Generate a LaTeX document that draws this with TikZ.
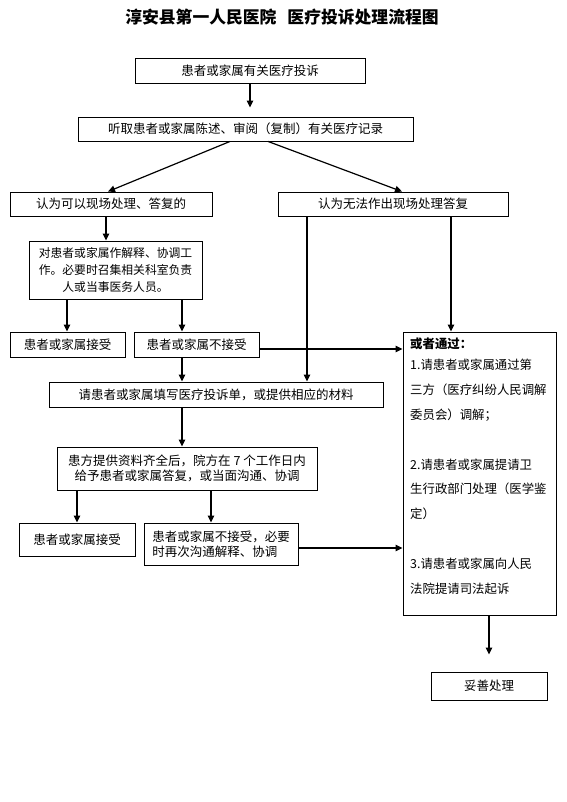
\documentclass[tikz,border=0pt]{standalone}
\usepackage{fontspec}
\setmainfont{Noto Sans CJK SC}
\usetikzlibrary{arrows.meta}
\begin{document}
\begin{tikzpicture}[x=1pt,y=-1pt,
  box/.style={draw,line width=0.9pt,inner sep=0pt,font=\fontsize{12.5}{15}\selectfont,align=center},
  arr/.style={line width=1.2pt,-{Triangle[length=7pt,width=6.5pt]}}]
\useasboundingbox[fill=white] (0,0) rectangle (566,802);
\node[font=\fontsize{16.8}{18}\selectfont\bfseries,inner sep=0pt] (title) at (282,17) {淳安县第一人民医院\hspace{11pt}医疗投诉处理流程图};
\node[box,minimum width=230pt,minimum height=25pt] (b1) at (250,70.5) {患者或家属有关医疗投诉};
\node[box,minimum width=335pt,minimum height=24pt] (b2) at (245.5,129) {听取患者或家属陈述、审阅（复制）有关医疗记录};
\node[box,minimum width=202pt,minimum height=24pt] (b3L) at (111,204) {认为可以现场处理、答复的};
\node[box,minimum width=230pt,minimum height=24pt] (b3R) at (393,204) {认为无法作出现场处理答复};
\node[box,minimum width=173pt,minimum height=58pt,font=\fontsize{11.8}{17}\selectfont] (b4) at (115.5,270) {对患者或家属作解释、协调工\\作。必要时召集相关科室负责\\人或当事医务人员。};
\node[box,minimum width=115pt,minimum height=25pt] (b5L) at (67.5,344.5) {患者或家属接受};
\node[box,minimum width=125pt,minimum height=25pt] (b5R) at (196.5,344.5) {患者或家属不接受};
\node[box,minimum width=153pt,minimum height=283pt] (big) at (479.5,473.5) {};
\node[anchor=north west,align=left,inner sep=0pt,font=\fontsize{12.4}{24.8}\selectfont] (bigtxt) at (410,338) {\textbf{或者通过：}\\[-3.8pt]1.请患者或家属通过第\\三方（医疗纠纷人民调解\\委员会）调解；\\[24.8pt]2.请患者或家属提请卫\\生行政部门处理（医学鉴\\定）\\[24.8pt]3.请患者或家属向人民\\法院提请司法起诉};
\node[box,minimum width=334pt,minimum height=25pt] (b6) at (216,394.5) {请患者或家属填写医疗投诉单，或提供相应的材料};
\node[box,minimum width=260pt,minimum height=43pt] (b7) at (187,468.5) {患方提供资料齐全后，院方在 7 个工作日内\\给予患者或家属答复，或当面沟通、协调};
\node[box,minimum width=116pt,minimum height=33pt] (b8L) at (77,539.5) {患者或家属接受};
\node[box,minimum width=154pt,minimum height=42pt,align=left] (b8R) at (221,544) {患者或家属不接受，必要\\时再次沟通解释、协调};
\node[box,minimum width=116pt,minimum height=28pt] (b9) at (489,686) {妥善处理};
% connectors
\draw[arr,shorten >=9pt] (b1.south) -- (b1.south |- b2.north);
\draw[arr] ([xshift=-15.5pt]b2.south) -- ([xshift=-3pt]b3L.north);
\draw[arr] ([xshift=22.5pt]b2.south) -- ([xshift=9pt]b3R.north);
\draw[arr] ([xshift=-5pt]b3L.south) -- ([xshift=-5pt]b3L.south |- b4.north);
\draw[arr] ([xshift=-86pt]b3R.south) -- ([xshift=-86pt]b3R.south |- b6.north);
\draw[arr] ([xshift=58pt]b3R.south) -- ([xshift=58pt]b3R.south |- big.north);
\draw[arr] ([xshift=-48.5pt]b4.south) -- ([xshift=-48.5pt]b4.south |- b5L.north);
\draw[arr] ([xshift=66.5pt]b4.south) -- ([xshift=66.5pt]b4.south |- b5R.north);
\draw[arr] ([yshift=-4.5pt]b5R.east) -- ([yshift=-4.5pt]b5R.east -| big.west);
\draw[arr] ([xshift=-14.5pt]b5R.south) -- ([xshift=-14.5pt]b5R.south |- b6.north);
\draw[arr] ([xshift=-34pt]b6.south) -- ([xshift=-34pt]b6.south |- b7.north);
\draw[arr] ([xshift=-110pt]b7.south) -- ([xshift=-110pt]b7.south |- b8L.north);
\draw[arr] ([xshift=24pt]b7.south) -- ([xshift=24pt]b7.south |- b8R.north);
\draw[arr] ([yshift=-4pt]b8R.east) -- ([yshift=-4pt]b8R.east -| big.west);
\draw[arr,shorten >=17pt] (big.south -| b9.north) -- (b9.north);
\end{tikzpicture}
\end{document}
